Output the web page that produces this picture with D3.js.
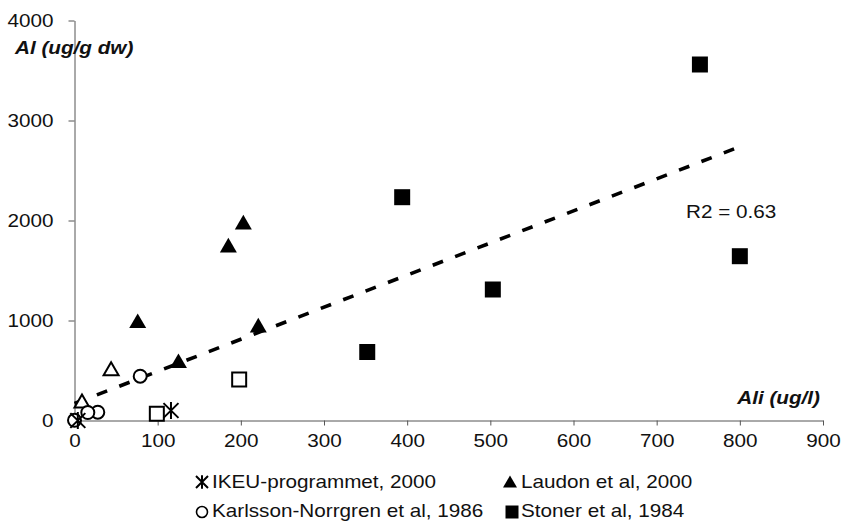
<!DOCTYPE html>
<html><head><meta charset="utf-8">
<script src="https://cdn.jsdelivr.net/npm/d3@7"></script>
<style>
body{margin:0;background:#fff}
svg{display:block}
text{font-family:"Liberation Sans",Arial,sans-serif;fill:#111}
</style>
</head><body>
<svg id="c" width="843" height="522"></svg>
<script>
// ---- data ----
const xTicks = [0, 100, 200, 300, 400, 500, 600, 700, 800, 900];
const yTicks = [0, 1000, 2000, 3000, 4000];
const ikeu = [[4, 0], [116, 100]];
const karlsson = [[79, 443], [28, 83], [16, 80], [0, 2]];
const laudon = [[76, 993], [125, 593], [185, 1750], [203, 1980], [221, 950]];
const laudonOpen = [[44, 507], [9, 183]];
const stoner = [[352, 685], [394, 2233], [503, 1310], [752, 3560], [800, 1643]];
const stonerOpen = [[99, 67], [198, 410]];
const trendX = [0, 800];
const trendIntercept = 170;
const trendSlope = 3.21;
const r2Label = "R2 = 0.63";
const xTitle = "Ali (ug/l)";
const yTitle = "Al (ug/g dw)";
const legendNames = ["IKEU-programmet, 2000", "Laudon et al, 2000", "Karlsson-Norrgren et al, 1986", "Stoner et al, 1984"];
const legendSymbols = ["asterisk", "triangle", "circle", "square"];

// ---- drawing ----
const SX = 1.15;
const svg = d3.select("#c");
const x = d3.scaleLinear().domain([0, 900]).range([74.5, 823]);
const y = d3.scaleLinear().domain([0, 4000]).range([420.5, 20.5]);
const axisColor = "#555";

function label(g, px, py, str, opts = {}) {
  return g.append("text")
    .attr("transform", `translate(${px},${py}) scale(${SX},1)`)
    .attr("font-size", opts.size || 18)
    .attr("font-weight", opts.weight || "normal")
    .attr("font-style", opts.style || "normal")
    .attr("text-anchor", opts.anchor || "start")
    .text(str);
}

// y axis
const gy = svg.append("g").attr("transform", `translate(${x(0)},0)`)
  .call(d3.axisLeft(y).tickValues(yTicks).tickSize(6).tickSizeOuter(0).tickFormat(d3.format("d")));
gy.attr("font-family", null).attr("font-size", 18);
gy.select(".domain").attr("stroke", axisColor);
gy.selectAll(".tick line").attr("stroke", axisColor);
gy.selectAll(".tick text").attr("x", 0).attr("dy", "0.36em")
  .attr("transform", `translate(-21,0) scale(${SX},1)`);

// x axis
const gx = svg.append("g").attr("transform", `translate(0,${y(0)})`)
  .call(d3.axisBottom(x).tickValues(xTicks).tickSize(5).tickSizeOuter(0).tickFormat(d3.format("d")));
gx.attr("font-family", null).attr("font-size", 18);
gx.select(".domain").attr("stroke", axisColor);
gx.selectAll(".tick line").attr("stroke", axisColor);
gx.selectAll(".tick text").attr("y", 0).attr("dy", "0.71em")
  .attr("transform", `translate(0,14) scale(${SX},1)`);

// axis titles
label(svg, 15, 54, yTitle, {weight: "bold", style: "italic"});
label(svg, 820, 404, xTitle, {weight: "bold", style: "italic", anchor: "end"});

// trend line
const line = d3.line().x(d => x(d)).y(d => y(trendIntercept + trendSlope * d));
svg.append("path").datum(trendX).attr("d", line)
  .attr("fill", "none").attr("stroke", "#000").attr("stroke-width", 3.6)
  .attr("stroke-dasharray", "11,13");

label(svg, 686, 218, r2Label);

// symbol helpers
function asteriskPath(w, h) {
  const dx = w / 2, dy = h / 2 * 0.88;
  return `M0,${-h / 2}L0,${h / 2}M${-dx},${-dy}L${dx},${dy}M${-dx},${dy}L${dx},${-dy}`;
}
function drawMarker(g, type, cx, cy, s, filled, sw) {
  let el;
  if (type === "asterisk") {
    el = g.append("path").attr("d", asteriskPath(s, s * 1.12)).attr("fill", "none")
      .attr("stroke", "#000").attr("stroke-width", sw);
  } else if (type === "circle") {
    el = g.append("circle").attr("r", s / 2).attr("fill", filled ? "#000" : "#fff")
      .attr("stroke", "#000").attr("stroke-width", sw);
  } else if (type === "square") {
    el = g.append("path").attr("d", d3.symbol(d3.symbolSquare, s * s)())
      .attr("fill", filled ? "#000" : "#fff").attr("stroke", filled ? "none" : "#000").attr("stroke-width", sw);
  } else {
    el = g.append("path").attr("d", d3.symbol(d3.symbolTriangle, Math.sqrt(3) / 4 * s * s)())
      .attr("fill", filled ? "#000" : "#fff").attr("stroke", filled ? "none" : "#000").attr("stroke-width", sw);
  }
  el.attr("transform", `translate(${cx},${cy})`);
  return el;
}

const pts = svg.append("g");
stonerOpen.forEach(d => drawMarker(pts, "square", x(d[0]), y(d[1]), 14, false, 2));
laudonOpen.forEach(d => drawMarker(pts, "triangle", x(d[0]), y(d[1]) + 1, 15, false, 2));
karlsson.forEach(d => drawMarker(pts, "circle", x(d[0]), y(d[1]), 13, false, 2));
laudon.forEach(d => drawMarker(pts, "triangle", x(d[0]), y(d[1]) + 2, 17, true, 0));
stoner.forEach(d => drawMarker(pts, "square", x(d[0]), y(d[1]), 16, true, 0));
ikeu.forEach(d => drawMarker(pts, "asterisk", x(d[0]), y(d[1]), 15, false, 2));

// legend
const leg = svg.append("g");
const legPos = [[202, 482, 212, 488], [510, 482, 521, 488], [202, 512, 212, 517], [512, 512, 521, 517]];
legendNames.forEach((n, i) => {
  const p = legPos[i];
  const t = legendSymbols[i];
  if (t === "asterisk") drawMarker(leg, t, p[0], p[1], 12, false, 2);
  else if (t === "circle") drawMarker(leg, t, p[0], p[1], 11, false, 1.6);
  else if (t === "triangle") drawMarker(leg, t, p[0], p[1] + 1.5, 14, true, 0);
  else drawMarker(leg, t, p[0], p[1], 13, true, 0);
  label(leg, p[2], p[3], n);
});
</script>
</body></html>
